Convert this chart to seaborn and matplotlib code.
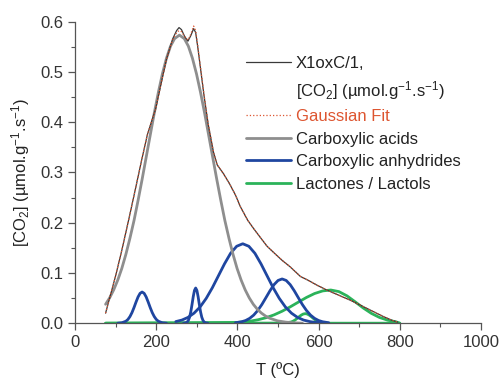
import matplotlib
matplotlib.use("Agg")
import matplotlib.pyplot as plt
from matplotlib.ticker import MultipleLocator, FormatStrFormatter
from matplotlib.lines import Line2D
import seaborn as sns
import pandas as pd

sns.set_theme(style="ticks")
plt.rcParams["font.family"] = ["Liberation Sans", "DejaVu Sans"]
plt.rcParams["mathtext.fontset"] = "custom"
plt.rcParams["mathtext.rm"] = "Liberation Sans"
plt.rcParams["mathtext.it"] = "Liberation Sans:italic"

# experimental TPD curve (X1oxC/1)
exp_T = [75, 86, 100, 115, 132, 148, 164, 178, 189, 198, 210, 225, 240, 250, 256, 262,
         270, 278, 285, 292, 297, 302, 310, 318, 328, 341, 350, 365, 380, 395, 407, 425,
         440, 455, 473, 490, 510, 530, 555, 575, 595, 620, 640, 660, 680, 700, 720, 740,
         760, 780, 795]
exp_co2 = [0.02, 0.053, 0.095, 0.145, 0.206, 0.265, 0.325, 0.375, 0.403, 0.425, 0.47,
           0.525, 0.565, 0.582, 0.588, 0.584, 0.570, 0.561, 0.572, 0.586, 0.578, 0.55,
           0.50, 0.45, 0.395, 0.34, 0.315, 0.298, 0.278, 0.255, 0.232, 0.205, 0.188,
           0.172, 0.153, 0.14, 0.125, 0.112, 0.093, 0.085, 0.076, 0.066, 0.059, 0.052,
           0.045, 0.037, 0.029, 0.021, 0.013, 0.006, 0.002]

# gaussian fit (sum of components)
fit_T = exp_T
fit_co2 = [0.02, 0.053, 0.095, 0.145, 0.206, 0.265, 0.325, 0.375, 0.403, 0.425, 0.47,
           0.525, 0.563, 0.578, 0.582, 0.580, 0.570, 0.563, 0.575, 0.591, 0.582, 0.553,
           0.502, 0.452, 0.396, 0.34, 0.315, 0.298, 0.278, 0.255, 0.232, 0.205, 0.188,
           0.172, 0.153, 0.14, 0.125, 0.112, 0.093, 0.085, 0.076, 0.066, 0.059, 0.052,
           0.045, 0.037, 0.029, 0.021, 0.013, 0.006, 0.002]

# carboxylic acids
acid_T = [75, 85, 95, 105, 115, 125, 135, 145, 155, 165, 175, 185, 195, 205, 215, 225,
          235, 245, 257, 269, 279, 289, 299, 309, 319, 329, 339, 349, 359, 369, 379, 389,
          399, 409, 419, 429, 439, 449, 459, 469, 479, 499, 519, 539, 560]
acid_co2 = [0.0376, 0.0504, 0.0663, 0.0858, 0.109, 0.137, 0.169, 0.204, 0.244, 0.286,
            0.330, 0.374, 0.418, 0.459, 0.496, 0.527, 0.551, 0.566, 0.573, 0.566, 0.551,
            0.527, 0.496, 0.459, 0.418, 0.374, 0.330, 0.286, 0.244, 0.204, 0.169, 0.137,
            0.109, 0.0858, 0.0663, 0.0504, 0.0376, 0.0277, 0.0201, 0.0143, 0.010,
            0.0046, 0.0021, 0.0008, 0.0]

# carboxylic anhydrides (four peaks)
anh1_T = [105, 115, 125, 130, 135, 140, 145, 150, 155, 160, 165, 170, 175, 180, 185,
          190, 195, 200, 205, 215, 225]
anh1_co2 = [0.0, 0.0008, 0.0039, 0.0074, 0.0131, 0.021, 0.031, 0.042, 0.0522, 0.0594,
            0.062, 0.0594, 0.0522, 0.042, 0.031, 0.021, 0.0131, 0.0074, 0.0039, 0.0008,
            0.0]
anh2_T = [267, 272, 276, 279, 282, 285, 288, 291, 294, 297, 300, 303, 306, 309, 312,
          315, 318, 322, 327]
anh2_co2 = [0.0, 0.0005, 0.0022, 0.0056, 0.012, 0.0227, 0.0372, 0.0528, 0.0652, 0.07,
            0.0652, 0.0528, 0.0372, 0.0227, 0.012, 0.0056, 0.0022, 0.0005, 0.0]
anh3_T = [248, 263, 278, 293, 308, 323, 338, 353, 368, 383, 398, 413, 428, 443, 458,
          473, 488, 503, 518, 533, 548, 563, 578, 593, 613]
anh3_co2 = [0.0032, 0.0062, 0.0115, 0.02, 0.0324, 0.0494, 0.0704, 0.0942, 0.118, 0.139,
            0.153, 0.158, 0.153, 0.139, 0.118, 0.0942, 0.0704, 0.0494, 0.0324, 0.02,
            0.0115, 0.0062, 0.0032, 0.0015, 0.0005]
anh4_T = [395, 410, 420, 430, 440, 450, 460, 470, 480, 490, 500, 510, 520, 530, 540,
          550, 560, 570, 580, 590, 600, 610, 625]
anh4_co2 = [0.0009, 0.0028, 0.0053, 0.0096, 0.0161, 0.0253, 0.037, 0.0506, 0.0644,
            0.0766, 0.085, 0.088, 0.085, 0.0766, 0.0644, 0.0506, 0.037, 0.0253, 0.0161,
            0.0096, 0.0053, 0.0028, 0.0009]

# lactones / lactols (two peaks, drawn from the start of the run)
lac1_T = [75, 512, 522, 532, 537, 542, 547, 552, 557, 562, 567, 572, 577, 582, 587,
          592, 597, 602, 607, 612, 622, 632, 800]
lac1_co2 = [0.0, 0.0002, 0.0012, 0.0023, 0.004, 0.0064, 0.0095, 0.0129, 0.016, 0.0182,
            0.019, 0.0182, 0.016, 0.0129, 0.0095, 0.0064, 0.004, 0.0023, 0.0012, 0.0002,
            0.0, 0.0, 0.0]
lac2_T = [75, 400, 430, 450, 470, 490, 510, 530, 550, 570, 590, 610, 630, 650, 670, 690,
          710, 730, 750, 770, 790, 800]
lac2_co2 = [0.0, 0.0016, 0.0039, 0.0067, 0.0108, 0.0165, 0.0238, 0.0325, 0.0419, 0.0512,
            0.059, 0.0642, 0.066, 0.0628, 0.0543, 0.0425, 0.0302, 0.0195, 0.0114, 0.006,
            0.0029, 0.0]

BLACK = "#3a3a3a"
RED = "#dd5530"
GREY = "#8e8e8e"
BLUE = "#1f46a0"
GREEN = "#2bb35a"

fig = plt.figure(figsize=(5.01, 3.78), dpi=100)
ax = fig.add_axes([0.150, 0.145, 0.810, 0.798])


def line(T, y, **kw):
    df = pd.DataFrame({"T": T, "y": y})
    sns.lineplot(data=df, x="T", y="y", ax=ax, estimator=None, sort=False, **kw)


line(lac1_T, lac1_co2, color=GREEN, lw=2)
line(lac2_T, lac2_co2, color=GREEN, lw=2)
line(anh1_T, anh1_co2, color=BLUE, lw=2)
line(anh2_T, anh2_co2, color=BLUE, lw=2)
line(anh3_T, anh3_co2, color=BLUE, lw=2)
line(anh4_T, anh4_co2, color=BLUE, lw=2)
line(acid_T, acid_co2, color=GREY, lw=2)
line(exp_T, exp_co2, color=BLACK, lw=0.9)
line(fit_T, fit_co2, color=RED, lw=0.9, ls=":")

ax.set_xlim(0, 1000)
ax.set_ylim(0, 0.6)
ax.xaxis.set_major_locator(MultipleLocator(200))
ax.xaxis.set_minor_locator(MultipleLocator(100))
ax.yaxis.set_major_locator(MultipleLocator(0.1))
ax.yaxis.set_minor_locator(MultipleLocator(0.05))
ax.yaxis.set_major_formatter(FormatStrFormatter("%.1f"))
sns.despine(ax=ax)
for s in ["left", "bottom"]:
    ax.spines[s].set_color("#555555")
    ax.spines[s].set_linewidth(0.9)
ax.tick_params(which="major", length=5, width=0.9, color="#555555",
               labelsize=12, labelcolor="#333333", direction="out")
ax.tick_params(which="minor", length=3, width=0.8, color="#555555", direction="out")
ax.set_xlabel("T (\u00baC)", fontsize=12, color="#222222", labelpad=9)
ax.set_ylabel("[CO$_2$] (\u00b5mol.g$^{-1}$.s$^{-1}$)", fontsize=12, color="#222222",
              labelpad=6)

handles = [
    Line2D([], [], color=BLACK, lw=0.9),
    Line2D([], [], color="none", lw=0),
    Line2D([], [], color=RED, lw=0.9, ls=":"),
    Line2D([], [], color=GREY, lw=2),
    Line2D([], [], color=BLUE, lw=2),
    Line2D([], [], color=GREEN, lw=2),
]
labels = ["X1oxC/1,", "[CO$_2$] (\u00b5mol.g$^{-1}$.s$^{-1}$)", "Gaussian Fit",
          "Carboxylic acids", "Carboxylic anhydrides", "Lactones / Lactols"]
leg = ax.legend(handles, labels, loc="upper left", bbox_to_anchor=(0.42, 0.885),
                frameon=False, fontsize=12, handlelength=2.7, handletextpad=0.3,
                labelspacing=0.45, borderpad=0, borderaxespad=0)
for t in leg.get_texts():
    t.set_color("#222222")
leg.get_texts()[2].set_color(RED)

fig.savefig("out.png", dpi=100)
